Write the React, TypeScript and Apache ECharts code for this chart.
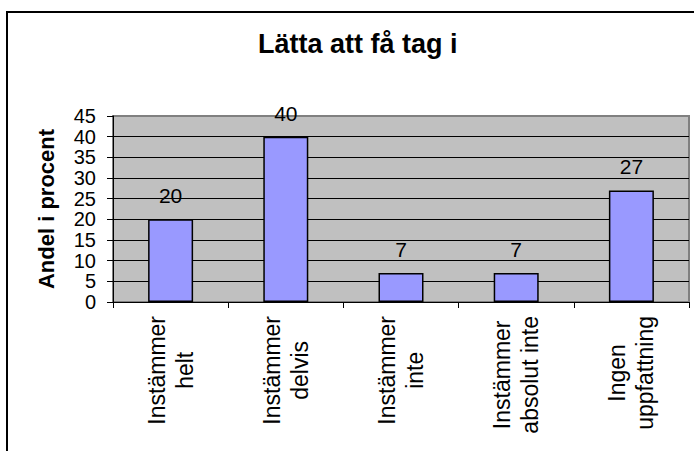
import React, { useEffect, useRef } from "react";
import * as echarts from "echarts";

const chartTitle = "Lätta att få tag i";
const yAxisTitle = "Andel i procent";
const categories = [
  "Instämmer\nhelt",
  "Instämmer\ndelvis",
  "Instämmer\ninte",
  "Instämmer\nabsolut inte",
  "Ingen\nuppfattning",
];
const values = [20, 40, 7, 7, 27];
const yMin = 0;
const yMax = 45;
const yStep = 5;

const FONT = "'Liberation Sans', Arial, Helvetica, sans-serif";

export default function App() {
  const ref = useRef<HTMLDivElement>(null);
  useEffect(() => {
    if (!ref.current) return;
    const chart = echarts.init(ref.current, null, { renderer: "svg" });
    chart.setOption({
      animation: false,
      backgroundColor: "#ffffff",
      textStyle: { fontFamily: FONT },
      title: {
        text: chartTitle,
        left: 258,
        top: 30,
        padding: 0,
        textStyle: { fontFamily: FONT, fontSize: 27, fontWeight: "bold", color: "#000" },
      },
      graphic: [
        {
          type: "rect",
          shape: { x: 7, y: 12, width: 720, height: 480 },
          style: { fill: "none", stroke: "#000", lineWidth: 2 },
          silent: true,
          z: 100,
        },
      ],
      grid: {
        left: 113,
        right: 5,
        top: 116,
        bottom: 149,
        show: true,
        backgroundColor: "#C0C0C0",
        borderColor: "#808080",
        borderWidth: 2,
      },
      xAxis: {
        type: "category",
        data: categories,
        axisLine: { show: true, lineStyle: { color: "#000", width: 1 } },
        axisTick: { show: true, length: 6, lineStyle: { color: "#000" } },
        axisLabel: {
          rotate: 90,
          margin: 14,
          interval: 0,
          fontFamily: FONT,
          fontSize: 23,
          color: "#000",
          formatter: (v: string) =>
            v
              .split("\n")
              .map((s) => "{c|" + s + "}")
              .join("\n"),
          rich: {
            c: { align: "center", fontFamily: FONT, fontSize: 23, lineHeight: 28, color: "#000" },
          },
        },
        splitLine: { show: false },
      },
      yAxis: {
        type: "value",
        min: yMin,
        max: yMax,
        interval: yStep,
        name: yAxisTitle,
        nameLocation: "middle",
        nameRotate: 90,
        nameGap: 56,
        nameTextStyle: { fontFamily: FONT, fontSize: 22, fontWeight: "bold", color: "#000" },
        axisLine: { show: true, lineStyle: { color: "#000", width: 1 } },
        axisTick: { show: true, length: 6, lineStyle: { color: "#000" } },
        axisLabel: {
          margin: 17,
          showMinLabel: true,
          showMaxLabel: true,
          hideOverlap: false,
          fontFamily: FONT,
          fontSize: 20,
          lineHeight: 18,
          color: "#000",
        },
        splitLine: { show: true, showMaxLine: false, lineStyle: { color: "#000", width: 1 } },
      },
      series: [
        {
          type: "bar",
          data: values,
          barWidth: 45,
          itemStyle: { color: "#9999FF", borderColor: "#000", borderWidth: 1.5 },
          label: {
            show: true,
            position: "top",
            distance: 13,
            fontFamily: FONT,
            fontSize: 21,
            color: "#000",
          },
        },
      ],
    });
    return () => chart.dispose();
  }, []);
  return (
    <div
      ref={ref}
      style={{ position: "fixed", left: 0, top: 0, width: 694, height: 451 }}
    />
  );
}
